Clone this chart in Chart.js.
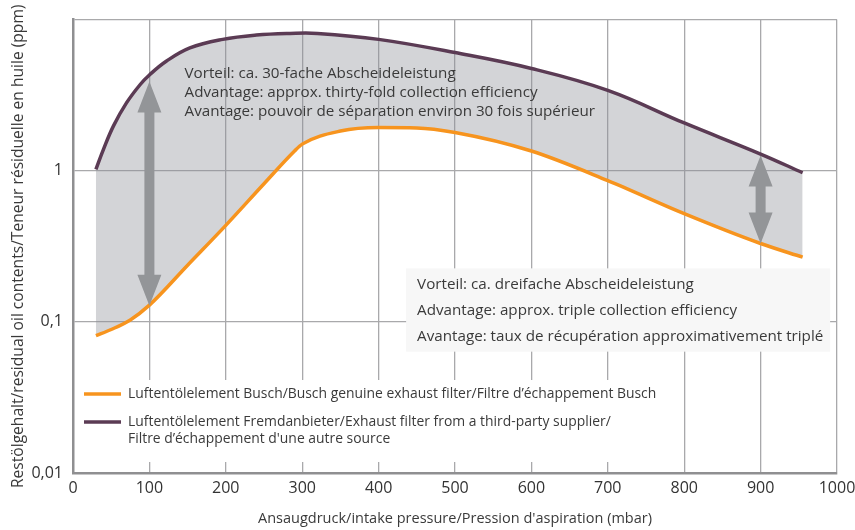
<!DOCTYPE html>
<html>
<head>
<meta charset="utf-8">
<script src="https://cdn.jsdelivr.net/npm/chart.js@4/dist/chart.umd.min.js"></script>
<style>
  html, body { margin: 0; padding: 0; background: #fff; }
  #wrap { width: 855px; height: 530px; }
</style>
</head>
<body>
<div id="wrap"><canvas id="myChart" width="855" height="530"></canvas></div>
<script>
// third-party filter (upper curve)
const purpleX = [30, 40, 53, 70, 88, 100, 122, 153, 196, 240, 284, 320, 400, 500, 600, 700, 800, 900, 955];
const purpleY = [1.02, 1.39, 1.98, 2.81, 3.72, 4.3, 5.3, 6.5, 7.4, 7.9, 8.1, 8.1, 7.4, 6.05, 4.75, 3.4, 2.07, 1.29, 0.97];

// Busch genuine filter (lower curve)
const orangeX = [30, 50, 75, 100, 150, 200, 250, 290, 300, 350, 400, 450, 500, 600, 700, 800, 900, 955];
const orangeY = [0.081, 0.089, 0.103, 0.129, 0.237, 0.435, 0.82, 1.35, 1.5, 1.83, 1.93, 1.92, 1.79, 1.35, 0.86, 0.52, 0.33, 0.268];

const yTicks = [0.01, 0.1, 1, 10];
const yTickLabels = ['0,01', '0,1', '1', ''];

// double arrows: x position, lower and upper value
const arrowX = [100, 900];
const arrowLow = [0.128, 0.33];
const arrowHigh = [3.9, 1.26];

const note1 = [
    'Vorteil: ca. 30-fache Abscheideleistung',
    'Advantage: approx. thirty-fold collection efficiency',
    'Avantage: pouvoir de séparation environ 30 fois supérieur'
];
const note2 = [
    'Vorteil: ca. dreifache Abscheideleistung',
    'Advantage: approx. triple collection efficiency',
    'Avantage: taux de récupération approximativement triplé'
];
const legendLabels = [
    ['Luftentölelement Busch/Busch genuine exhaust filter/Filtre d\u2019échappement Busch'],
    ['Luftentölelement Fremdanbieter/Exhaust filter from a third-party supplier/', 'Filtre d\u2019échappement d\'une autre source']
];

const ORANGE = '#f7941e';
const PURPLE = '#5b3b54';
const FONT = '"Open Sans", "DejaVu Sans", sans-serif';
const TEXT = '#3a3a3a';

const toPoints = (xs, ys) => xs.map((x, i) => ({ x: x, y: ys[i] }));

const drawArrow = (ctx, x, yTop, yBot) => {
    const head = 31, half = 12, shaft = 5;
    ctx.fillStyle = '#939598';
    ctx.beginPath();
    ctx.moveTo(x, yTop);
    ctx.lineTo(x + half, yTop + head);
    ctx.lineTo(x + shaft, yTop + head);
    ctx.lineTo(x + shaft, yBot - head);
    ctx.lineTo(x + half, yBot - head);
    ctx.lineTo(x, yBot);
    ctx.lineTo(x - half, yBot - head);
    ctx.lineTo(x - shaft, yBot - head);
    ctx.lineTo(x - shaft, yTop + head);
    ctx.lineTo(x - half, yTop + head);
    ctx.closePath();
    ctx.fill();
}

const extras = {
    id: 'extras',
    afterDatasetsDraw(chart) {
        const { ctx, scales: { x, y }, chartArea } = chart;
        ctx.save();

        arrowX.forEach((v, i) => {
            drawArrow(ctx, x.getPixelForValue(v), y.getPixelForValue(arrowHigh[i]), y.getPixelForValue(arrowLow[i]));
        });

        ctx.font = '15.2px ' + FONT;
        ctx.fillStyle = TEXT;
        ctx.textBaseline = 'middle';
        let tx = x.getPixelForValue(146), ty = y.getPixelForValue(4.4);
        note1.forEach((t, i) => ctx.fillText(t, tx, ty + i * 19));

        // box behind second note
        const bx1 = x.getPixelForValue(436), bx2 = x.getPixelForValue(991);
        const by1 = y.getPixelForValue(0.226), by2 = y.getPixelForValue(0.0635);
        ctx.fillStyle = '#f7f7f7';
        ctx.fillRect(bx1, by1, bx2 - bx1, by2 - by1);
        ctx.fillStyle = TEXT;
        note2.forEach((t, i) => ctx.fillText(t, bx1 + 11, by1 + 16 + i * 26));

        // legend
        const lx = chartArea.left + 2, ly = 380;
        ctx.fillStyle = '#fff';
        ctx.fillRect(lx, ly, 592, 82);
        ctx.font = '13.9px ' + FONT;
        ctx.lineWidth = 3.5;
        const rows = [394, 422];
        [ORANGE, PURPLE].forEach((c, i) => {
            ctx.strokeStyle = c;
            ctx.beginPath();
            ctx.moveTo(lx + 9, rows[i]);
            ctx.lineTo(lx + 46, rows[i]);
            ctx.stroke();
            ctx.fillStyle = TEXT;
            legendLabels[i].forEach((t, j) => ctx.fillText(t, lx + 53, rows[i] + j * 17));
        });

        ctx.restore();
    }
};

const main = () => {
    const data = {
        datasets: [{
            label: 'Busch',
            data: toPoints(orangeX, orangeY),
            borderColor: ORANGE,
            borderWidth: 3.5,
            pointRadius: 0,
            fill: false,
            cubicInterpolationMode: 'monotone'
        }, {
            label: 'Fremd',
            data: toPoints(purpleX, purpleY),
            borderColor: PURPLE,
            backgroundColor: 'rgba(140,143,150,0.38)',
            borderWidth: 3.5,
            pointRadius: 0,
            fill: 0,
            tension: 0.4
        }]
    };

    const config = {
        type: 'line',
        data: data,
        options: {
            responsive: false,
            animation: false,
            layout: { padding: { top: 18, right: 18, left: 0, bottom: 0 } },
            plugins: { legend: { display: false }, tooltip: { enabled: false } },
            scales: {
                x: {
                    type: 'linear',
                    min: 0,
                    max: 1000,
                    ticks: {
                        stepSize: 100,
                        color: '#333',
                        font: { family: FONT, size: 16 },
                        padding: 6,
                        maxRotation: 0,
                        callback: (v) => String(v)
                    },
                    grid: { color: '#a9a9ab', lineWidth: 1.3, drawTicks: false },
                    border: { color: '#8f8f91', width: 2.5 },
                    title: {
                        display: true,
                        text: 'Ansaugdruck/intake pressure/Pression d\'aspiration (mbar)',
                        color: TEXT,
                        font: { family: FONT, size: 14.5 },
                        padding: { top: 0, bottom: 2 }
                    },
                    afterFit: (s) => { s.height = 57; s.paddingRight = 0; s.paddingLeft = 0; }
                },
                y: {
                    type: 'logarithmic',
                    min: 0.01,
                    max: 10,
                    afterBuildTicks: (s) => { s.ticks = yTicks.map((v) => ({ value: v })); },
                    ticks: {
                        color: '#333',
                        font: { family: FONT, size: 16 },
                        padding: 10,
                        callback: (v) => yTickLabels[yTicks.indexOf(v)] ?? ''
                    },
                    grid: { color: '#a9a9ab', lineWidth: 1.3, drawTicks: false },
                    border: { color: '#8f8f91', width: 2.5 },
                    title: {
                        display: true,
                        text: 'Restölgehalt/residual oil contents/Teneur résiduelle en huile (ppm)',
                        color: TEXT,
                        font: { family: FONT, size: 15.6 },
                        padding: { top: 9, bottom: 0 }
                    },
                    afterFit: (s) => { s.width = 73; }
                }
            }
        },
        plugins: [extras]
    };

    new Chart(document.getElementById('myChart'), config);
}

window.onload = () => main()
</script>
</body>
</html>
